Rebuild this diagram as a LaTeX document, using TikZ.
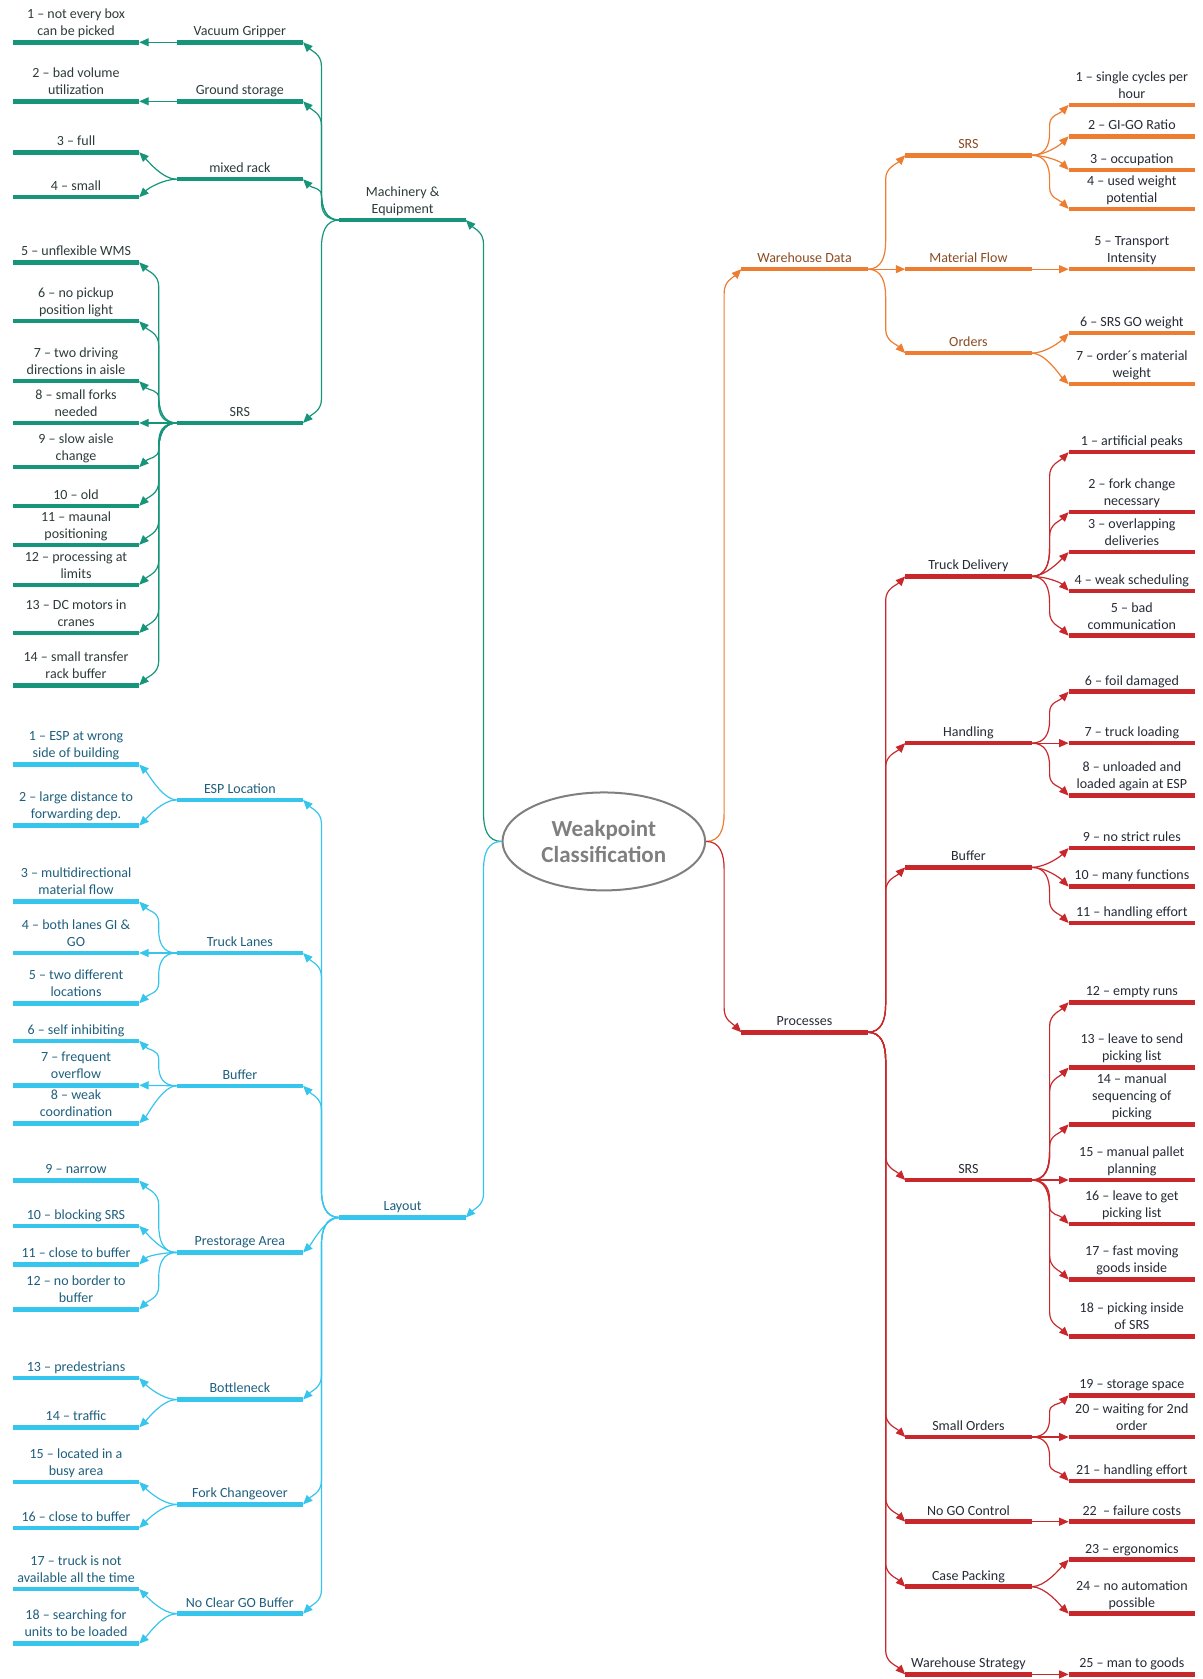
\documentclass[tikz,border=0pt]{standalone}
\usepackage{fontspec}
\setmainfont{Carlito}
\usetikzlibrary{shapes.geometric,arrows.meta,calc}
\definecolor{cg}{HTML}{17957A}
\definecolor{co}{HTML}{ED7D31}
\definecolor{cr}{HTML}{C8282B}
\definecolor{cb}{HTML}{36C5EC}
\definecolor{tg}{HTML}{2E3B3B}
\definecolor{tb}{HTML}{1E5F7D}
\definecolor{to}{HTML}{8A4B22}
\definecolor{td}{HTML}{262B36}
\definecolor{ge}{HTML}{7F7F7F}
\tikzset{
  item/.style={anchor=south, minimum width=126pt, inner xsep=0pt, inner ysep=6.5pt,
    text depth=0pt, align=center, font=\fontsize{14}{17}\selectfont},
  ul/.style={append after command={(\tikzlastnode.south west) edge[draw=#1,line width=4.5pt,-] (\tikzlastnode.south east)}},
  gn/.style={item, text=tg, ul=cg},
  bn/.style={item, text=tb, ul=cb},
  on/.style={item, text=to, ul=co},
  odn/.style={item, text=td, ul=co},
  rn/.style={item, text=td, ul=cr},
  conn/.style={line width=1.2pt, -{Triangle[length=9.5pt,width=8pt]}},
  sc/.style={conn},
  lsh/.style={conn, out=180, out distance=14pt, in=#1, in distance=12pt},
  rsh/.style={conn, out=0, out distance=14pt, in=#1, in distance=12pt},
  elL/.style={conn, to path={let \p1=(\tikztostart), \p2=(\tikztotarget), \n1={sign(\y2-\y1)},
      \n2={min(28,0.45*abs(\y2-\y1))}, \n3={min(24,0.4*abs(\y2-\y1))} in
    (\p1) .. controls +(-14pt,0) and +(0,{-0.55*\n1*\n2*1pt}) .. (\x1-18pt,{\y1+\n1*\n2*1pt})
    -- (\x1-18pt,{\y2-\n1*\n3*1pt}) .. controls +(0,{0.5*\n1*\n3*1pt}) and +(9pt,{-9*\n1*1pt}) .. (\p2)}},
  elR/.style={conn, to path={let \p1=(\tikztostart), \p2=(\tikztotarget), \n1={sign(\y2-\y1)},
      \n2={min(28,0.45*abs(\y2-\y1))}, \n3={min(24,0.4*abs(\y2-\y1))} in
    (\p1) .. controls +(14pt,0) and +(0,{-0.55*\n1*\n2*1pt}) .. (\x1+18pt,{\y1+\n1*\n2*1pt})
    -- (\x1+18pt,{\y2-\n1*\n3*1pt}) .. controls +(0,{0.5*\n1*\n3*1pt}) and +(-9pt,{-9*\n1*1pt}) .. (\p2)}},
}
\begin{document}
\begin{tikzpicture}[x=1.0712pt,y=1.0712pt]
\useasboundingbox (0,0) rectangle (1123,-1568);

\node[ellipse, draw=ge, line width=2pt, minimum width=202.7pt, minimum height=98pt, inner sep=0pt,
  font=\fontsize{23}{26}\selectfont\bfseries, text=ge, align=center] (root) at (563.9,-785.8) {Weakpoint\\Classification};

% ---------------- Machinery & Equipment (green)
\node[gn] (gM) at (376,-205.5) {Machinery \&\\Equipment};
\node[gn] (gVG) at (224,-39.5) {Vacuum Gripper};
\node[gn] (gGS) at (224,-94.6) {Ground storage};
\node[gn] (gMR) at (224,-167.4) {mixed rack};
\node[gn] (gS) at (224,-395) {SRS};
\node[gn] (g1) at (71,-39.5) {1 – not every box\\can be picked};
\node[gn] (g2) at (71,-94.6) {2 – bad volume\\utilization};
\node[gn] (g3) at (71,-142.2) {3 – full};
\node[gn] (g4) at (71,-184.2) {4 – small};
\node[gn] (g5) at (71,-245) {5 – unflexible WMS};
\node[gn] (g6) at (71,-300) {6 – no pickup\\position light};
\node[gn] (g7) at (71,-356) {7 – two driving\\directions in aisle};
\node[gn] (g8) at (71,-395) {8 – small forks\\needed};
\node[gn] (g9) at (71,-436.3) {9 – slow aisle\\change};
\node[gn] (g10) at (71,-472.4) {10 – old};
\node[gn] (g11) at (71,-508.8) {11 – maunal\\positioning};
\node[gn] (g12) at (71,-546.1) {12 – processing at\\limits};
\node[gn] (g13) at (71,-591.2) {13 – DC motors in\\cranes};
\node[gn] (g14) at (71,-640) {14 – small transfer\\rack buffer};

\begin{scope}[cg]
\draw[elL] (root.west) to (gM.south east);
\draw[elL] (gM.south west) to (gVG.south east);
\draw[elL] (gM.south west) to (gGS.south east);
\draw[elL] (gM.south west) to (gMR.south east);
\draw[elL] (gM.south west) to (gS.south east);
\draw[sc] (gVG.south west) -- (g1.south east);
\draw[sc] (gGS.south west) -- (g2.south east);
\draw[lsh=-45] (gMR.south west) to (g3.south east);
\draw[lsh=45] (gMR.south west) to (g4.south east);
\draw[elL] (gS.south west) to (g5.south east);
\draw[elL] (gS.south west) to (g6.south east);
\draw[elL] (gS.south west) to (g7.south east);
\draw[sc] (gS.south west) -- (g8.south east);
\draw[elL] (gS.south west) to (g9.south east);
\draw[elL] (gS.south west) to (g10.south east);
\draw[elL] (gS.south west) to (g11.south east);
\draw[elL] (gS.south west) to (g12.south east);
\draw[elL] (gS.south west) to (g13.south east);
\draw[elL] (gS.south west) to (g14.south east);
\end{scope}

% ---------------- Layout (blue)
\node[bn] (bL) at (376,-1137) {Layout};
\node[bn] (bESP) at (224,-747) {ESP Location};
\node[bn] (bTL) at (224,-890) {Truck Lanes};
\node[bn] (bBuf) at (224,-1014) {Buffer};
\node[bn] (bPA) at (224,-1169.7) {Prestorage Area};
\node[bn] (bBN) at (224,-1307) {Bottleneck};
\node[bn] (bFC) at (224,-1405) {Fork Changeover};
\node[bn] (bNC) at (224,-1507) {No Clear GO Buffer};
\node[bn] (b1) at (71,-714) {1 – ESP at wrong\\side of building};
\node[bn] (b2) at (71,-771) {2 – large distance to\\forwarding dep.};
\node[bn] (b3) at (71,-842) {3 – multidirectional\\material flow};
\node[bn] (b4) at (71,-890) {4 – both lanes GI \&\\GO};
\node[bn] (b5) at (71,-937) {5 – two different\\locations};
\node[bn] (b6) at (71,-972) {6 – self inhibiting};
\node[bn] (b7) at (71,-1013.5) {7 – frequent\\overflow};
\node[bn] (b8) at (71,-1049) {8 – weak\\coordination};
\node[bn] (b9) at (71,-1102.5) {9 – narrow};
\node[bn] (b10) at (71,-1144.8) {10 – blocking SRS};
\node[bn] (b11) at (71,-1180.9) {11 – close to buffer};
\node[bn] (b12) at (71,-1222.9) {12 – no border to\\buffer};
\node[bn] (b13) at (71,-1287) {13 – predestrians};
\node[bn] (b14) at (71,-1333) {14 – traffic};
\node[bn] (b15) at (71,-1384) {15 – located in a\\busy area};
\node[bn] (b16) at (71,-1427) {16 – close to buffer};
\node[bn] (b17) at (71,-1484) {17 – truck is not\\available all the time};
\node[bn] (b18) at (71,-1535) {18 – searching for\\units to be loaded};

\begin{scope}[cb]
\draw[elL] (root.west) to (bL.south east);
\draw[elL] (bL.south west) to (bESP.south east);
\draw[elL] (bL.south west) to (bTL.south east);
\draw[elL] (bL.south west) to (bBuf.south east);
\draw[lsh=45] (bL.south west) to (bPA.south east);
\draw[elL] (bL.south west) to (bBN.south east);
\draw[elL] (bL.south west) to (bFC.south east);
\draw[elL] (bL.south west) to (bNC.south east);
\draw[lsh=-45] (bESP.south west) to (b1.south east);
\draw[lsh=45] (bESP.south west) to (b2.south east);
\draw[elL] (bTL.south west) to (b3.south east);
\draw[sc] (bTL.south west) -- (b4.south east);
\draw[elL] (bTL.south west) to (b5.south east);
\draw[elL] (bBuf.south west) to (b6.south east);
\draw[sc] (bBuf.south west) -- (b7.south east);
\draw[lsh=45] (bBuf.south west) to (b8.south east);
\draw[elL] (bPA.south west) to (b9.south east);
\draw[lsh=-45] (bPA.south west) to (b10.south east);
\draw[lsh=45] (bPA.south west) to (b11.south east);
\draw[elL] (bPA.south west) to (b12.south east);
\draw[lsh=-45] (bBN.south west) to (b13.south east);
\draw[lsh=45] (bBN.south west) to (b14.south east);
\draw[lsh=-45] (bFC.south west) to (b15.south east);
\draw[lsh=45] (bFC.south west) to (b16.south east);
\draw[lsh=-45] (bNC.south west) to (b17.south east);
\draw[lsh=45] (bNC.south west) to (b18.south east);
\end{scope}

% ---------------- Warehouse Data (orange)
\node[on] (oW) at (751.3,-251.4) {Warehouse Data};
\node[on] (oS) at (904.4,-145) {SRS};
\node[on] (oMF) at (904.4,-251.4) {Material Flow};
\node[on] (oOR) at (904.4,-329.8) {Orders};
\node[odn] (o1) at (1057,-98) {1 – single cycles per\\hour};
\node[odn] (o2) at (1057,-127.3) {2 – GI-GO Ratio};
\node[odn] (o3) at (1057,-158.7) {3 – occupation};
\node[odn] (o4) at (1057,-195.1) {4 – used weight\\potential};
\node[odn] (o5) at (1057,-251.4) {5 – Transport\\Intensity};
\node[odn] (o6) at (1057,-311.2) {6 – SRS GO weight};
\node[odn] (o7) at (1057,-358.8) {7 – order´s material\\weight};

\begin{scope}[co]
\draw[elR] (root.east) to (oW.south west);
\draw[elR] (oW.south east) to (oS.south west);
\draw[sc] (oW.south east) -- (oMF.south west);
\draw[elR] (oW.south east) to (oOR.south west);
\draw[elR] (oS.south east) to (o1.south west);
\draw[rsh=-135] (oS.south east) to (o2.south west);
\draw[rsh=135] (oS.south east) to (o3.south west);
\draw[elR] (oS.south east) to (o4.south west);
\draw[sc] (oMF.south east) -- (o5.south west);
\draw[rsh=-135] (oOR.south east) to (o6.south west);
\draw[rsh=135] (oOR.south east) to (o7.south west);
\end{scope}

% ---------------- Processes (red)
\node[rn] (rP) at (751.3,-964) {Processes};
\node[rn] (rTD) at (904.4,-538.3) {Truck Delivery};
\node[rn] (rH) at (904.4,-694) {Handling};
\node[rn] (rB) at (904.4,-810) {Buffer};
\node[rn] (rS) at (904.4,-1102) {SRS};
\node[rn] (rSO) at (904.4,-1342) {Small Orders};
\node[rn] (rNG) at (904.4,-1421.1) {No GO Control};
\node[rn] (rCP) at (904.4,-1481.8) {Case Packing};
\node[rn] (rWS) at (904.4,-1563.7) {Warehouse Strategy};
\node[rn] (r1) at (1057,-422.3) {1 – artificial peaks};
\node[rn] (r2) at (1057,-478.3) {2 – fork change\\necessary};
\node[rn] (r3) at (1057,-515.6) {3 – overlapping\\deliveries};
\node[rn] (r4) at (1057,-551.7) {4 – weak scheduling};
\node[rn] (r5) at (1057,-593.7) {5 – bad\\communication};
\node[rn] (r6) at (1057,-646) {6 – foil damaged};
\node[rn] (r7) at (1057,-694) {7 – truck loading};
\node[rn] (r8) at (1057,-743) {8 – unloaded and\\loaded again at ESP};
\node[rn] (r9) at (1057,-792) {9 – no strict rules};
\node[rn] (r10) at (1057,-828) {10 – many functions};
\node[rn] (r11) at (1057,-862) {11 – handling effort};
\node[rn] (r12) at (1057,-936) {12 – empty runs};
\node[rn] (r13) at (1057,-997) {13 – leave to send\\picking list};
\node[rn] (r14) at (1057,-1050) {14 – manual\\sequencing of\\picking};
\node[rn] (r15) at (1057,-1102) {15 – manual pallet\\planning};
\node[rn] (r16) at (1057,-1143) {16 – leave to get\\picking list};
\node[rn] (r17) at (1057,-1195) {17 – fast moving\\goods inside};
\node[rn] (r18) at (1057,-1248) {18 – picking inside\\of SRS};
\node[rn] (r19) at (1057,-1303) {19 – storage space};
\node[rn] (r20) at (1057,-1342) {20 – waiting for 2nd\\order};
\node[rn] (r21) at (1057,-1383) {21 – handling effort};
\node[rn] (r22) at (1057,-1421.1) {22\ \ – failure costs};
\node[rn] (r23) at (1057,-1456.6) {23 – ergonomics};
\node[rn] (r24) at (1057,-1507) {24 – no automation\\possible};
\node[rn] (r25) at (1057,-1563.7) {25 – man to goods};

\begin{scope}[cr]
\draw[elR] (root.east) to (rP.south west);
\draw[elR] (rP.south east) to (rTD.south west);
\draw[elR] (rP.south east) to (rH.south west);
\draw[elR] (rP.south east) to (rB.south west);
\draw[elR] (rP.south east) to (rS.south west);
\draw[elR] (rP.south east) to (rSO.south west);
\draw[elR] (rP.south east) to (rNG.south west);
\draw[elR] (rP.south east) to (rCP.south west);
\draw[elR] (rP.south east) to (rWS.south west);
\draw[elR] (rTD.south east) to (r1.south west);
\draw[elR] (rTD.south east) to (r2.south west);
\draw[rsh=-135] (rTD.south east) to (r3.south west);
\draw[rsh=135] (rTD.south east) to (r4.south west);
\draw[elR] (rTD.south east) to (r5.south west);
\draw[elR] (rH.south east) to (r6.south west);
\draw[sc] (rH.south east) -- (r7.south west);
\draw[elR] (rH.south east) to (r8.south west);
\draw[rsh=-135] (rB.south east) to (r9.south west);
\draw[rsh=135] (rB.south east) to (r10.south west);
\draw[elR] (rB.south east) to (r11.south west);
\draw[elR] (rS.south east) to (r12.south west);
\draw[elR] (rS.south east) to (r13.south west);
\draw[elR] (rS.south east) to (r14.south west);
\draw[sc] (rS.south east) -- (r15.south west);
\draw[elR] (rS.south east) to (r16.south west);
\draw[elR] (rS.south east) to (r17.south west);
\draw[elR] (rS.south east) to (r18.south west);
\draw[elR] (rSO.south east) to (r19.south west);
\draw[sc] (rSO.south east) -- (r20.south west);
\draw[elR] (rSO.south east) to (r21.south west);
\draw[sc] (rNG.south east) -- (r22.south west);
\draw[rsh=-135] (rCP.south east) to (r23.south west);
\draw[rsh=135] (rCP.south east) to (r24.south west);
\draw[sc] (rWS.south east) -- (r25.south west);
\end{scope}
\end{tikzpicture}
\end{document}
